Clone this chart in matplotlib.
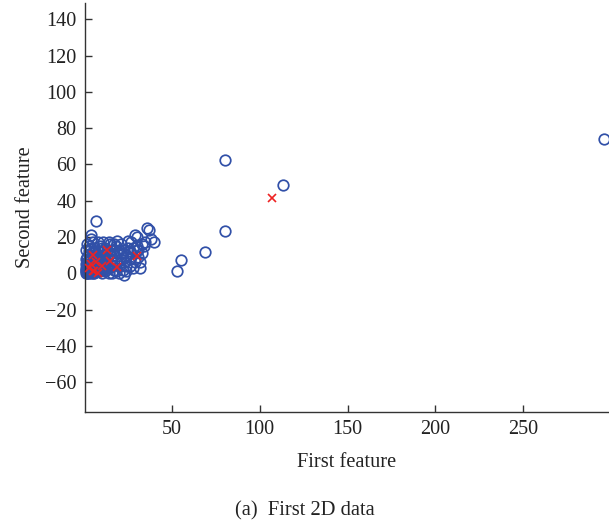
import matplotlib
matplotlib.use("Agg")
import matplotlib.pyplot as plt

# Class 1 (blue circles): first and second feature values
blue_x = [1, 2, 1, 3, 2, 4, 3, 5, 1, 2, 4, 6, 5, 7, 3, 6, 8, 4, 7, 9, 10, 8, 2, 5, 9, 11,
          12, 10, 6, 3, 4, 2, 5, 4, 4, 7, 6, 8, 9, 11, 12, 13, 14, 15, 13, 11, 8, 14, 16, 17,
          16, 15, 18, 19, 20, 18, 20, 21, 22, 23, 21, 22, 24, 24, 25, 26, 26, 27, 27, 28, 29,
          29, 30, 28, 30, 31, 32, 33, 34, 35, 36, 40, 33, 12, 10, 16, 18, 20, 7, 9, 11, 13,
          15, 17, 10, 12, 14, 6, 8, 3, 1, 2, 5, 1, 3, 23, 25, 19, 17, 26, 24, 30, 31, 24, 29,
          32, 23, 38, 37,
          2, 3, 4, 5, 6, 7, 8, 9, 10, 11, 2, 4, 6, 8, 10, 12, 3, 5, 7, 9, 11, 13, 1, 2, 4, 6,
          14, 16, 1, 3,
          53, 55, 69, 80, 80, 113, 296]
blue_y = [0, 1, 2, 0, 3, 1, 4, 0, 5, 6, 3, 2, 5, 1, 7, 6, 3, 9, 8, 1, 4, 6, 9, 11, 9, 2,
          6, 8, 12, 12, 14, 16, 17, 19, 21, 29, 14, 12, 15, 12, 10, 3, 0, 5, 13, 17, 17, 10, 8, 2,
          13, 16, 6, 11, 4, 15, 13, 8, 2, 6, 16, 11, 9, 1, 14, 4, 8, 11, 17, 14, 6,
          21, 20, 3, 13, 9, 6, 16, 15, 17, 25, 17, 11, 1, 0, 0, 1, 0, 4, 6, 7, 8,
          11, 10, 14, 14, 17, 9, 10, 2, 3, 4, 3, 8, 10, 13, 18, 18, 16, 12, 4, 15, 13, 10, 8,
          3, -1, 19, 24,
          0, 1, 2, 1, 0, 2, 1, 3, 2, 4, 2, 4, 4, 5, 6, 4, 5, 7, 6, 2, 5, 6, 1, 0, 0, 1,
          3, 4, 13, 15,
          1.5, 7.5, 11.5, 23.5, 62.5, 48.5, 74]

# Class 2 (red crosses)
red_x = [5, 13, 15, 7, 30, 19, 3, 6, 8, 5, 4, 10, 107]
red_y = [10, 13, 7, 6, 9.5, 3.5, 3, 1, 0, 1.5, 5, 4, 41.5]

x_ticks = [50, 100, 150, 200, 250]
y_ticks = [-60, -40, -20, 0, 20, 40, 60, 80, 100, 120, 140]

plt.rcParams['font.family'] = ['Liberation Serif', 'DejaVu Serif']

fig = plt.figure(figsize=(6.09, 5.20), dpi=100)
ax = fig.add_axes([85 / 609, 108 / 520, 524 / 609, 409 / 520])

ax.plot(blue_x, blue_y, linestyle='none', marker='o', markersize=7.6,
        markerfacecolor='none', markeredgecolor='#3150a8', markeredgewidth=1.25,
        clip_on=False, zorder=2)
ax.plot(red_x, red_y, linestyle='none', marker='x', markersize=6,
        color='#ee2222', markeredgewidth=1.2, clip_on=False, zorder=3)

ax.set_xlim(0.6, 298.8)
ax.set_ylim(-76.5, 149)
ax.set_xticks(x_ticks)
ax.set_yticks(y_ticks)
ax.set_yticklabels([str(v).replace('-', '\u2212') for v in y_ticks])

for side in ('top', 'right'):
    ax.spines[side].set_visible(False)
for side in ('left', 'bottom'):
    ax.spines[side].set_color('#333333')
    ax.spines[side].set_linewidth(1.0)

ax.tick_params(direction='in', length=5, width=1.0, color='#333333',
               labelsize=14.5, labelcolor='#222222', pad=6)

ax.set_xlabel('First feature', fontsize=14.7, color='#222222', labelpad=10)
ax.set_ylabel('Second feature', fontsize=14.7, color='#222222', labelpad=7)

fig.text(0.5, 0, '(a)  First 2D data', ha='center', va='bottom',
         fontsize=14.8, color='#222222')

fig.savefig('out.png', dpi=100)
